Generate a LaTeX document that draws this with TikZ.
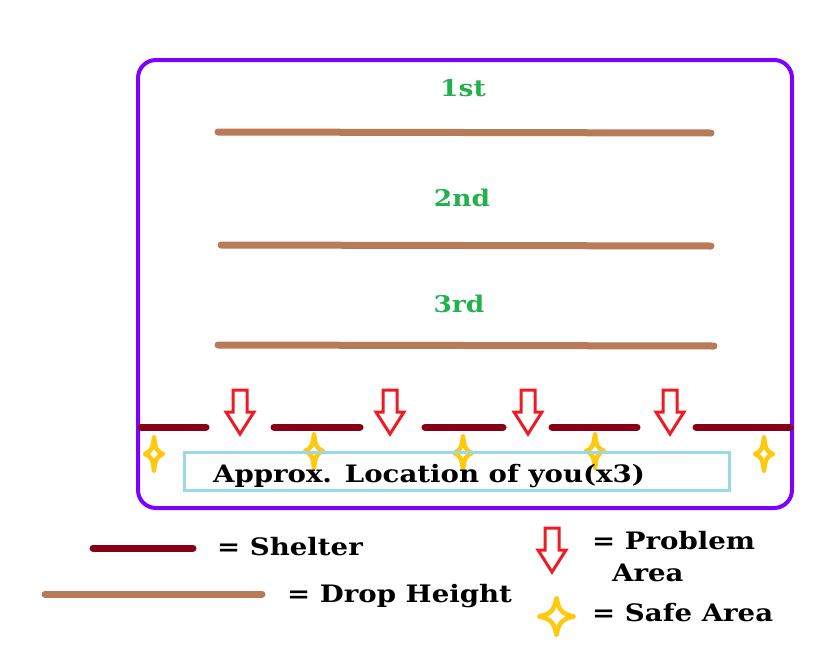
\documentclass[tikz,border=0pt]{standalone}
\usepackage{fontspec}
\setmainfont{DejaVu Serif}
\usepackage{xcolor}
\usetikzlibrary{positioning}

\definecolor{framepurple}{RGB}{128,0,255}
\definecolor{dropbrown}{RGB}{185,122,87}
\definecolor{shelterred}{RGB}{136,0,21}
\definecolor{problemred}{RGB}{237,28,36}
\definecolor{safeyellow}{RGB}{255,201,14}
\definecolor{levelgreen}{RGB}{34,177,76}
\definecolor{youblue}{RGB}{153,217,234}

\newcommand{\widetext}[1]{\scalebox{1.15}[1]{#1}}

\begin{document}
\begin{tikzpicture}[x=1pt, y=-1pt,
    frame/.style={draw=framepurple, line width=4pt, rounded corners=18pt},
    drop/.style={draw=dropbrown, line width=7pt, line cap=round},
    shelter/.style={draw=shelterred, line width=7pt, line cap=round},
    level/.style={text=levelgreen, font=\bfseries\fontsize{23}{23}\selectfont, inner sep=0pt},
    legend/.style={font=\bfseries\fontsize{24}{24}\selectfont, inner sep=0pt, anchor=west, align=left},
    youbox/.style={draw=youblue, line width=3pt, minimum width=545pt, minimum height=38pt, inner sep=0pt},
    pics/problem/.style={code={
        \draw[problemred, line width=3pt, line join=miter]
            (-7,-44) -- (7,-44) -- (7,-22) -- (14,-22) -- (0,0) -- (-14,-22) -- (-7,-22) -- cycle;}},
    pics/safe/.style 2 args={code={
        \draw[safeyellow, line width=4.5pt, line join=round]
            (0,-#2) .. controls (0.15*#1,-0.3*#2) and (0.3*#1,-0.15*#2) .. (#1,0)
            .. controls (0.3*#1,0.15*#2) and (0.15*#1,0.3*#2) .. (0,#2)
            .. controls (-0.15*#1,0.3*#2) and (-0.3*#1,0.15*#2) .. (-#1,0)
            .. controls (-0.3*#1,-0.15*#2) and (-0.15*#1,-0.3*#2) .. cycle;}}]

    \useasboundingbox (0,0) rectangle (822,656);

    % frame
    \draw[frame] (138,60) rectangle (792,508);

    % drop heights
    \node[level] (first) at (463,88) {\widetext{1st}};
    \draw[drop] (218,132) -- (711,133);
    \node[level] (second) at (462,198) {\widetext{2nd}};
    \draw[drop] (221,245) -- (711,246);
    \node[level] (third) at (459,304) {\widetext{3rd}};
    \draw[drop] (218,345) -- (714,346);

    % shelter pieces
    \foreach \xa/\xb in {141/206, 274/360, 425/503, 552/637, 696/790}
        \draw[shelter] (\xa,427) -- (\xb,427);

    % problem areas
    \foreach \xc in {240, 390, 528, 670}
        \pic at (\xc,434) {problem};

    % safe areas
    \foreach \xc/\yc in {154/454, 314/451, 463/453, 595/451, 764/454}
        \pic at (\xc,\yc) {safe={9}{17}};

    % you
    \node[youbox] (you) at (456.5,471) {};
    \node[legend, anchor=center] (youtext) at (429,476) {\widetext{Approx. Location of you(x3)}};

    % legend
    \draw[shelter] (93,548) -- (193,548);
    \node[legend] (shelterkey) at (217,547) {\widetext{= Shelter}};
    \draw[drop] (45,594) -- (262,594);
    \node[legend] (dropkey) at (287,596) {\widetext{= Drop Height}};
    \pic at (552,572) {problem};
    \node[legend] (problemkey) at (592,541) {\widetext{= Problem}};
    \node[legend] (areakey) at (612,573) {\widetext{Area}};
    \pic at (556.5,616.5) {safe={17.5}{18.5}};
    \node[legend] (safekey) at (592,613) {\widetext{= Safe Area}};

\end{tikzpicture}
\end{document}
